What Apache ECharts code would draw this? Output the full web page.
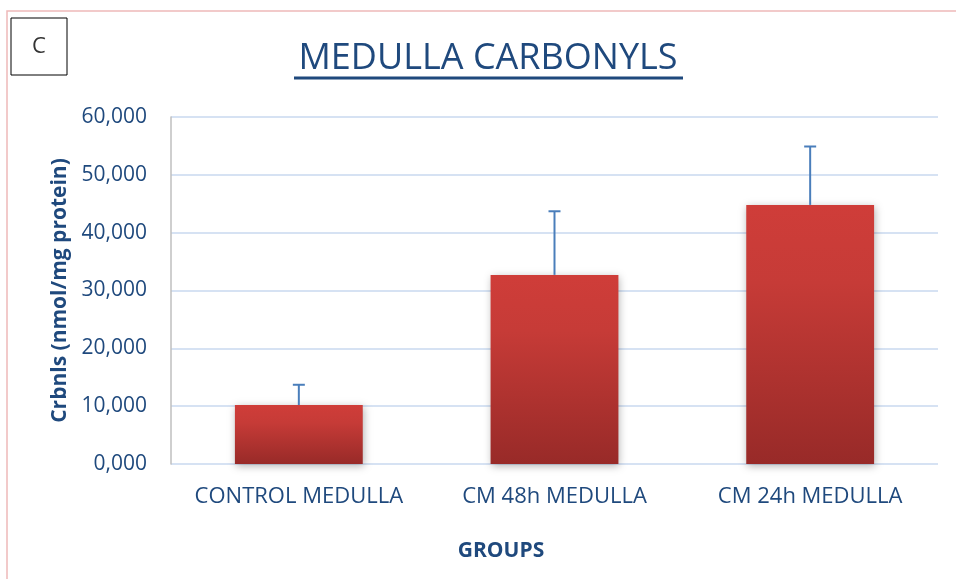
<!DOCTYPE html>
<html lang="en">
<head>
	<meta charset="UTF-8">
	<title>Medulla carbonyls</title>
	<script src="https://cdn.jsdelivr.net/npm/echarts@6/dist/echarts.min.js"></script>
	<style>
		html,body{width:100%;height:100%;margin:0;background:#fff;}
		#chart{width:956px;height:579px;}
	</style>
</head>
<body>
	<div id="chart"></div>
<script>
	var groups = ['CONTROL MEDULLA', 'CM 48h MEDULLA', 'CM 24h MEDULLA'];
	var means = [10200, 32700, 44800];
	var errUp = [3500, 11000, 10100];

	var FONT = "'Open Sans', sans-serif";
	var BLUE = '#1f497d';

	function fmt(v) {
		var k = Math.floor(v / 1000), r = String(v % 1000);
		while (r.length < 3) r = '0' + r;
		return k + ',' + r;
	}

	var errData = [];
	for (var i = 0; i < groups.length; i++) {
		errData.push([i, means[i], means[i] + errUp[i]]);
	}

	var myChart = echarts.init(document.getElementById('chart'));
	var options = {
		animation: false,
		graphic: [
			{type: 'rect', shape: {x: 7, y: 11, width: 960, height: 580}, style: {fill: 'none', stroke: '#eeb9b9', lineWidth: 1.5}},
			{type: 'rect', shape: {x: 11, y: 18, width: 56, height: 57}, style: {fill: '#fff', stroke: '#000', lineWidth: 1}},
			{type: 'text', x: 39, y: 47, style: {text: 'C', fill: '#333', font: '22px ' + FONT, align: 'center', verticalAlign: 'middle'}},
			{type: 'text', x: 488, y: 59, style: {text: 'MEDULLA CARBONYLS', fill: BLUE, font: '36px ' + FONT, align: 'center', verticalAlign: 'middle'}},
			{type: 'line', shape: {x1: 294, y1: 78, x2: 683, y2: 78}, style: {stroke: BLUE, lineWidth: 3}},
			{type: 'text', x: 501, y: 551, style: {text: 'GROUPS', fill: BLUE, font: 'bold 21px ' + FONT, align: 'center', verticalAlign: 'middle'}}
		],
		grid: {left: 171, right: 18, top: 117, bottom: 115},
		xAxis: {
			type: 'category',
			data: groups,
			axisLine: {show: false},
			axisTick: {show: false},
			axisLabel: {color: BLUE, fontFamily: FONT, fontSize: 22, margin: 22, interval: 0}
		},
		yAxis: {
			type: 'value',
			min: 0, max: 60000, interval: 10000,
			name: 'Crbnls (nmol/mg protein)',
			nameLocation: 'middle',
			nameGap: 100,
			nameTextStyle: {color: BLUE, fontFamily: FONT, fontSize: 21, fontWeight: 'bold'},
			axisLine: {show: true, lineStyle: {color: '#bfbfbf', width: 1.5}},
			axisTick: {show: false},
			axisLabel: {color: BLUE, fontFamily: FONT, fontSize: 21, margin: 24, formatter: fmt},
			splitLine: {lineStyle: {color: '#d6e2f3', width: 2}}
		},
		series: [
			{
				type: 'bar',
				data: means,
				barWidth: '50%',
				itemStyle: {
					color: new echarts.graphic.LinearGradient(0, 0, 0, 1, [
						{offset: 0, color: '#cf3d39'},
						{offset: 0.3, color: '#c63b37'},
						{offset: 1, color: '#982a28'}
					]),
					shadowColor: 'rgba(0,0,0,0.3)',
					shadowBlur: 8,
					shadowOffsetX: 1,
					shadowOffsetY: 2
				},
				z: 2
			},
			{
				type: 'custom',
				data: errData,
				z: 3,
				renderItem: function (params, api) {
					var p0 = api.coord([api.value(0), api.value(1)]);
					var p1 = api.coord([api.value(0), api.value(2)]);
					var st = {stroke: '#4a7ebb', lineWidth: 2};
					return {
						type: 'group',
						children: [
							{type: 'line', shape: {x1: p0[0], y1: p0[1], x2: p1[0], y2: p1[1]}, style: st},
							{type: 'line', shape: {x1: p1[0] - 6, y1: p1[1], x2: p1[0] + 6, y2: p1[1]}, style: st}
						]
					};
				}
			}
		]
	};
	myChart.setOption(options);
</script>
</body>
</html>
